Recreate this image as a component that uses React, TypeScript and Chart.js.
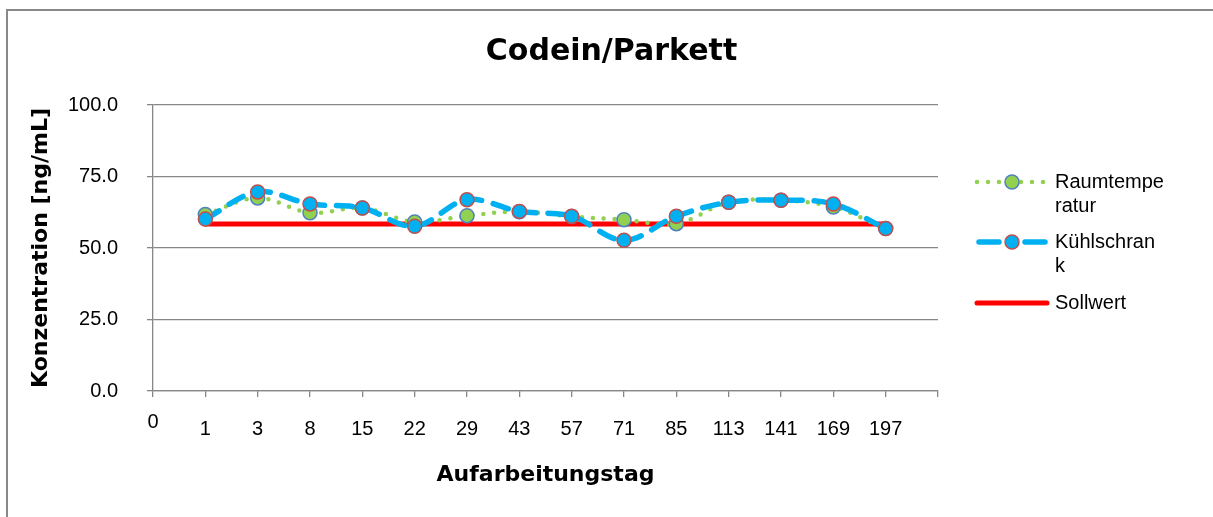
import React, { useEffect, useRef } from 'react';
import { Chart, registerables } from 'chart.js';

Chart.register(...registerables);

const FONT = '"Liberation Sans", Arial, sans-serif';
const TITLE_FONT = '"DejaVu Sans", "Liberation Sans", Arial, sans-serif';

const chartTitle = 'Codein/Parkett';
const xAxisTitle = 'Aufarbeitungstag';
const yAxisTitle = 'Konzentration [ng/mL]';

const categories = ['0', '1', '3', '8', '15', '22', '29', '43', '57', '71', '85', '113', '141', '169', '197', ''];
const raumtemperatur = [null, 61.7, 67.5, 62.3, 64.0, 59.1, 61.3, 62.7, 61.0, 59.9, 58.5, 66.0, 66.7, 64.3, 56.8, null];
const kuehlschrank = [null, 60.1, 69.6, 65.4, 64.0, 57.6, 66.9, 62.8, 61.1, 52.7, 61.1, 66.0, 66.7, 65.4, 56.8, null];
const sollwert = [null, 58.4, 58.4, 58.4, 58.4, 58.4, 58.4, 58.4, 58.4, 58.4, 58.4, 58.4, 58.4, 58.4, 58.4, null];

const seriesNames = ['Raumtemperatur', 'Kühlschrank', 'Sollwert'];
const legendLines = [['Raumtempe', 'ratur'], ['Kühlschran', 'k'], ['Sollwert']];

const GREEN = '#92D050';
const GREEN_EDGE = '#4F81BD';
const BLUE = '#00B0F0';
const BLUE_EDGE = '#C0504D';
const RED = '#FF0000';
const GRID = '#878787';

const extras = {
  id: 'extras',
  beforeDraw(chart: any) {
    const ctx = chart.ctx;
    ctx.save();
    ctx.fillStyle = '#ffffff';
    ctx.fillRect(0, 0, chart.width, chart.height);
    ctx.fillStyle = '#898989';
    ctx.fillRect(6, 9, 2, chart.height);
    ctx.fillRect(6, 9, chart.width, 2);
    ctx.restore();
  },
  afterDraw(chart: any) {
    const ctx = chart.ctx;
    const xs = chart.scales.x;
    ctx.save();
    ctx.font = `20px ${FONT}`;
    ctx.fillStyle = '#000';
    ctx.textAlign = 'center';
    ctx.textBaseline = 'middle';
    ctx.fillText(categories[0], xs.getPixelForValue(0), xs.top + 31);

    const x0 = chart.chartArea.right + 39;
    const x1 = x0 + 70;
    const xm = (x0 + x1) / 2;
    const tx = x1 + 8;
    const items = [
      { y: 182, color: GREEN, width: 4.5, dash: [0, 11], fill: GREEN, edge: GREEN_EDGE, marker: true },
      { y: 242, color: BLUE, width: 5.5, dash: [], fill: BLUE, edge: BLUE_EDGE, marker: true },
      { y: 303, color: RED, width: 5, dash: [], fill: '', edge: '', marker: false },
    ];
    items.forEach((it, i) => {
      ctx.beginPath();
      ctx.setLineDash(it.dash);
      ctx.lineCap = 'round';
      ctx.lineWidth = it.width;
      ctx.strokeStyle = it.color;
      if (i === 1) {
        ctx.moveTo(x0 + 2, it.y);
        ctx.lineTo(x0 + 22, it.y);
        ctx.moveTo(x1 - 22, it.y);
        ctx.lineTo(x1 - 2, it.y);
      } else {
        ctx.moveTo(x0, it.y);
        ctx.lineTo(x1, it.y);
      }
      ctx.stroke();
      ctx.setLineDash([]);
      if (it.marker) {
        ctx.beginPath();
        ctx.arc(xm, it.y, 7, 0, Math.PI * 2);
        ctx.fillStyle = it.fill;
        ctx.fill();
        ctx.lineWidth = 1.5;
        ctx.strokeStyle = it.edge;
        ctx.stroke();
      }
      ctx.fillStyle = '#000';
      ctx.textAlign = 'left';
      ctx.textBaseline = 'middle';
      ctx.font = `20px ${FONT}`;
      legendLines[i].forEach((line, j) => {
        ctx.fillText(line, tx, it.y + j * 24);
      });
    });
    ctx.restore();
  },
};

export default function App() {
  const ref = useRef<HTMLCanvasElement>(null);

  useEffect(() => {
    if (!ref.current) return;
    const lineBase = { pointRadius: 0, pointHoverRadius: 0, tension: 0.35, borderCapStyle: 'round', borderJoinStyle: 'round', fill: false };
    const pointBase = { showLine: false, pointRadius: 7, pointHoverRadius: 7, pointBorderWidth: 1.5 };
    const chart = new Chart(ref.current, {
      type: 'line',
      data: {
        labels: categories,
        datasets: [
          { ...lineBase, label: seriesNames[2], data: sollwert, borderColor: RED, borderWidth: 5, tension: 0, order: 5 },
          { ...lineBase, label: seriesNames[0], data: raumtemperatur, borderColor: GREEN, borderWidth: 4.5, borderDash: [0, 11], order: 4 },
          { ...lineBase, label: seriesNames[1], data: kuehlschrank, borderColor: BLUE, borderWidth: 5.5, borderDash: [16, 12], order: 3 },
          { ...pointBase, label: seriesNames[0] + ' ', data: raumtemperatur, pointBackgroundColor: GREEN, pointBorderColor: GREEN_EDGE, order: 2 },
          { ...pointBase, label: seriesNames[1] + ' ', data: kuehlschrank, pointBackgroundColor: BLUE, pointBorderColor: BLUE_EDGE, order: 1 },
        ] as any,
      },
      options: {
        responsive: false,
        animation: false,
        events: [],
        layout: { padding: { left: 10, right: 0, top: 0, bottom: 0 } },
        plugins: {
          legend: { display: false },
          tooltip: { enabled: false },
          title: {
            display: true,
            text: chartTitle,
            color: '#000',
            font: { size: 30, weight: 'bold', family: TITLE_FONT },
            padding: { top: 34.5, bottom: 34.5 },
          },
        },
        scales: {
          x: {
            type: 'category',
            offset: false,
            afterFit: (s: any) => { s.height = 126; },
            grid: { display: true, drawOnChartArea: false, drawTicks: true, tickLength: 6, color: GRID, lineWidth: 1.3 },
            border: { display: true, color: GRID, width: 1.3 },
            ticks: {
              autoSkip: false,
              maxRotation: 0,
              padding: 20,
              color: '#000',
              font: { size: 20, family: FONT },
              callback: (_v: any, i: number) => (i === 0 ? '' : categories[i]),
            },
            title: {
              display: true,
              text: xAxisTitle,
              color: '#000',
              font: { size: 22, weight: 'bold', family: TITLE_FONT },
              padding: { top: 0, bottom: 28.4 },
            },
          },
          y: {
            min: 0,
            max: 100,
            afterFit: (s: any) => { s.width = 143; },
            grid: { color: GRID, lineWidth: 1.3, tickLength: 6 },
            border: { display: true, color: GRID, width: 1.3 },
            ticks: {
              stepSize: 25,
              padding: 29,
              color: '#000',
              font: { size: 20, family: FONT },
              callback: (v: any) => Number(v).toFixed(1),
            },
            title: {
              display: true,
              text: yAxisTitle,
              color: '#000',
              font: { size: 22, weight: 'bold', family: TITLE_FONT },
              padding: { top: 18.2, bottom: 0 },
            },
          },
          y2: {
            position: 'right',
            display: true,
            afterFit: (s: any) => { s.width = 275; },
            grid: { display: false },
            border: { display: false },
            ticks: { display: false },
          },
        },
      } as any,
      plugins: [extras],
    });
    return () => chart.destroy();
  }, []);

  return (
    <div style={{ position: 'absolute', left: 0, top: 0, width: 1213, height: 517, overflow: 'hidden' }}>
      <canvas ref={ref} width={1213} height={517} />
    </div>
  );
}
